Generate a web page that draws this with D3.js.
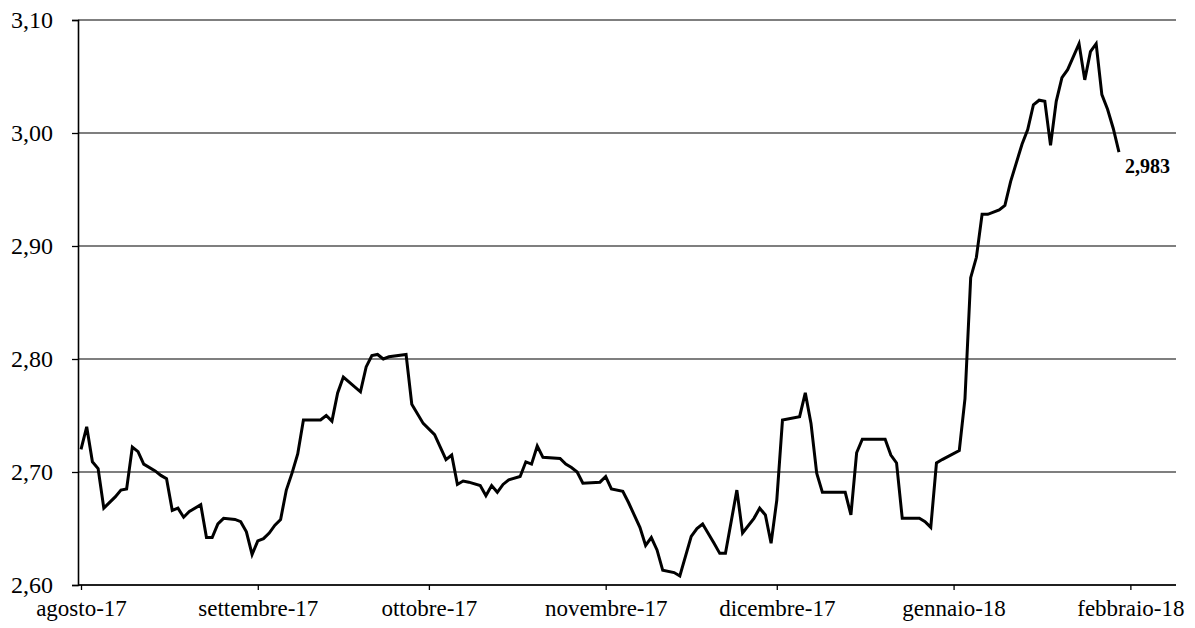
<!DOCTYPE html>
<html lang="it">
<head>
<meta charset="UTF-8">
<title>Rendimento</title>
<style>
  body { margin: 0; background: #fff; }
  svg text { font-family: "Liberation Serif", "Times New Roman", serif; fill: #000; }
</style>
</head>
<body>
<svg id="chart" width="1195" height="628"></svg>
<script src="https://cdnjs.cloudflare.com/ajax/libs/d3/7.8.5/d3.min.js"></script>
<script>
// daily values
var dates = [
  "2017-08-01","2017-08-02","2017-08-03","2017-08-04","2017-08-05","2017-08-07","2017-08-08","2017-08-09",
  "2017-08-10","2017-08-11","2017-08-12","2017-08-14","2017-08-15","2017-08-16","2017-08-17","2017-08-18",
  "2017-08-19","2017-08-20","2017-08-22","2017-08-23","2017-08-24","2017-08-25","2017-08-26","2017-08-28",
  "2017-08-29","2017-08-30","2017-08-31","2017-09-01","2017-09-02","2017-09-03","2017-09-04","2017-09-05",
  "2017-09-06","2017-09-07","2017-09-08","2017-09-09","2017-09-12","2017-09-13","2017-09-14","2017-09-15",
  "2017-09-16","2017-09-19","2017-09-20","2017-09-21","2017-09-22","2017-09-23","2017-09-24","2017-09-27",
  "2017-09-28","2017-09-30","2017-10-02","2017-10-03","2017-10-04","2017-10-05","2017-10-06","2017-10-07",
  "2017-10-08","2017-10-10","2017-10-11","2017-10-12","2017-10-13","2017-10-14","2017-10-15","2017-10-17",
  "2017-10-18","2017-10-19","2017-10-20","2017-10-21","2017-10-24","2017-10-25","2017-10-26","2017-10-27",
  "2017-10-28","2017-10-31","2017-11-01","2017-11-02","2017-11-04","2017-11-05","2017-11-07","2017-11-08",
  "2017-11-09","2017-11-10","2017-11-11","2017-11-13","2017-11-14","2017-11-16","2017-11-17","2017-11-18",
  "2017-11-20","2017-11-21","2017-11-22","2017-11-24","2017-11-25","2017-11-27","2017-11-28","2017-11-29",
  "2017-11-30","2017-12-01","2017-12-02","2017-12-05","2017-12-06","2017-12-07","2017-12-08","2017-12-09",
  "2017-12-13","2017-12-14","2017-12-15","2017-12-16","2017-12-20","2017-12-21","2017-12-22","2017-12-23",
  "2017-12-26","2017-12-27","2017-12-28","2017-12-29","2017-12-30","2018-01-02","2018-01-03","2018-01-04",
  "2018-01-05","2018-01-06","2018-01-07","2018-01-09","2018-01-10","2018-01-11","2018-01-13","2018-01-14",
  "2018-01-15","2018-01-16","2018-01-17","2018-01-18","2018-01-19","2018-01-20","2018-01-21","2018-01-23",
  "2018-01-24","2018-01-25","2018-01-26","2018-01-27","2018-01-28","2018-01-29","2018-01-30"
];
var values = [
  2.720,2.740,2.709,2.703,2.668,2.678,2.684,2.685,
  2.722,2.718,2.707,2.701,2.697,2.694,2.666,2.668,
  2.660,2.665,2.671,2.642,2.642,2.654,2.659,2.658,
  2.656,2.647,2.627,2.639,2.641,2.646,2.653,2.658,
  2.684,2.699,2.716,2.746,2.746,2.750,2.745,2.770,
  2.784,2.771,2.793,2.803,2.804,2.800,2.802,2.804,
  2.760,2.743,2.733,2.722,2.711,2.715,2.689,2.692,
  2.691,2.688,2.679,2.688,2.682,2.689,2.693,2.696,
  2.709,2.707,2.723,2.713,2.712,2.707,2.704,2.700,
  2.690,2.691,2.696,2.685,2.683,2.673,2.651,2.635,
  2.642,2.631,2.613,2.611,2.608,2.643,2.650,2.654,
  2.637,2.628,2.628,2.684,2.646,2.659,2.668,2.662,
  2.637,2.675,2.746,2.749,2.770,2.743,2.699,2.682,
  2.682,2.662,2.717,2.729,2.729,2.715,2.708,2.659,
  2.659,2.656,2.651,2.708,2.711,2.719,2.765,2.872,
  2.890,2.928,2.928,2.932,2.936,2.957,2.990,3.003,
  3.025,3.029,3.028,2.989,3.028,3.049,3.056,3.079,
  3.047,3.072,3.079,3.034,3.021,3.004,2.983
];
var monthTicks = ["2017-08-01","2017-09-01","2017-10-01","2017-11-01","2017-12-01","2018-01-01","2018-02-01"];
var monthLabels = ["agosto-17","settembre-17","ottobre-17","novembre-17","dicembre-17","gennaio-18","febbraio-18"];
var yTicks = [2.6, 2.7, 2.8, 2.9, 3.0, 3.1];
var lastLabel = "2,983";

var parse = d3.timeParse("%Y-%m-%d");
var it = d3.formatLocale({decimal: ",", thousands: ".", grouping: [3], currency: ["", " €"]});
var fmt = it.format(".2f");

var svg = d3.select("#chart");
var mLeft = 78, mRight = 1176, mTop = 20, mBottom = 585;

var x = d3.scaleTime()
    .domain([parse("2017-08-01"), parse("2018-02-09")])
    .range([81, mRight]);
var y = d3.scaleLinear()
    .domain([2.6, 3.1])
    .range([mBottom, mTop]);

// horizontal grid
svg.append("g")
    .selectAll("line")
    .data(yTicks)
    .enter().append("line")
    .attr("x1", mLeft).attr("x2", mRight)
    .attr("y1", function(d) { return y(d); })
    .attr("y2", function(d) { return y(d); })
    .attr("stroke", "#000")
    .attr("stroke-width", 1.2);

// y axis
var yAxis = d3.axisLeft(y).tickValues(yTicks).tickFormat(fmt).tickSize(6).tickPadding(19);
var gy = svg.append("g").attr("transform", "translate(" + mLeft + ",0)").call(yAxis);
gy.attr("font-family", null);
gy.select(".domain").attr("stroke-width", 1.6);
gy.selectAll(".tick line").attr("stroke-width", 1.3);
gy.selectAll("text").style("font-size", "24px");

// x axis
var xAxis = d3.axisBottom(x)
    .tickValues(monthTicks.map(parse))
    .tickFormat(function(d, i) { return monthLabels[i]; })
    .tickSize(5).tickPadding(10).tickSizeOuter(0);
var gx = svg.append("g").attr("transform", "translate(0," + mBottom + ")").call(xAxis);
gx.attr("font-family", null);
gx.select(".domain").attr("d", "M" + mLeft + ",0H" + mRight).attr("stroke-width", 1.3);
gx.selectAll(".tick line").attr("stroke-width", 1.3);
gx.selectAll("text").style("font-size", "23px");

// series
var pts = dates.map(function(d, i) { return {date: parse(d), value: values[i]}; });
var line = d3.line()
    .x(function(d) { return x(d.date); })
    .y(function(d) { return y(d.value); });

svg.append("path")
    .datum(pts)
    .attr("d", line)
    .attr("fill", "none")
    .attr("stroke", "#000")
    .attr("stroke-width", 3)
    .attr("stroke-linejoin", "miter");

var last = pts[pts.length - 1];
svg.append("text")
    .attr("x", x(last.date) + 6)
    .attr("y", y(last.value) + 21)
    .style("font-size", "20px")
    .style("font-weight", "bold")
    .text(lastLabel);
</script>
</body>
</html>
